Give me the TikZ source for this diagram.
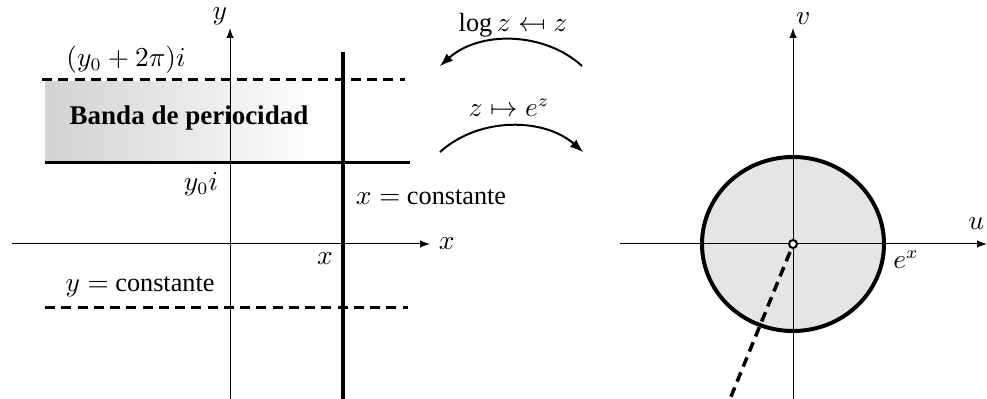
\documentclass[tikz,border=0pt]{standalone}
\usepackage{amsmath, amssymb}
\usepackage{graphicx}
\usepackage{fontspec}
\setmainfont{Liberation Serif}
\usepackage{tikz}
\usepackage{xcolor}

\begin{document}
\begin{tikzpicture}[x=0.4pt, y=-0.4pt, >=latex, font=\fontsize{10.5}{12}\selectfont]
    \useasboundingbox (0,0) rectangle (987,399);
    % plano z
    \shade[left color=gray!35, right color=white] (45,82) rectangle (320,162);
    \draw[very thick] (45,163) -- (410,163);
    \draw[very thick, dash pattern=on 4pt off 2.5pt] (42,80) -- (405,80);
    \draw[very thick, dash pattern=on 4pt off 2.5pt] (45,307) -- (408,307);
    \draw[->] (230,399) -- (230,28) node[anchor=south east, inner sep=1pt] (ylab) {$y$};
    \draw[->] (12,244) -- (430,244) node[right] (xlab) {$x$};
    \draw[line width=1.6pt] (343,52) -- (343,399);
    \node (ytop) at (126,60) {$(y_0 + 2\pi)i$};
    \node[font=\fontsize{10.8}{12}\bfseries] (banda) at (189,118) {Banda de periocidad};
    \node (ybot) at (201,184) {$y_0 i$};
    \node (xconst) at (431,197) {$x = $ constante};
    \node (xval) at (325,259) {$x$};
    \node (yconst) at (140,287) {$y = $ constante};
    % aplicaciones
    \coordinate (la) at (582,66);
    \coordinate (lb) at (440,66);
    \coordinate (ea) at (440,152);
    \coordinate (eb) at (583,152);
    \node (logz) at (513,25) {$\log z \mathrel{\reflectbox{$\mapsto$}} z$};
    \node (expz) at (509,108) {$z \mapsto e^z$};
    \draw[->, thick] (la) .. controls (545,32) and (480,30) .. (lb);
    \draw[->, thick] (ea) .. controls (480,116) and (545,118) .. (eb);
    % plano w
    \fill[gray!20] (793,244) circle[x radius=91, y radius=87];
    \draw[->] (793,399) -- (793,28) node[anchor=south west, inner sep=1pt] (vlab) {$v$};
    \draw[->] (620,244) -- (987,244);
    \node[anchor=east, inner sep=1pt] (ulab) at (987,224) {$u$};
    \draw[line width=1.6pt] (793,244) circle[x radius=91, y radius=87];
    \draw[line width=1.4pt, dash pattern=on 4pt off 2.5pt] (790,252) -- (730,399);
    \filldraw[fill=white, thick] (793,244) circle (4);
    \node (ex) at (906,260) {$e^x$};
\end{tikzpicture}
\end{document}
